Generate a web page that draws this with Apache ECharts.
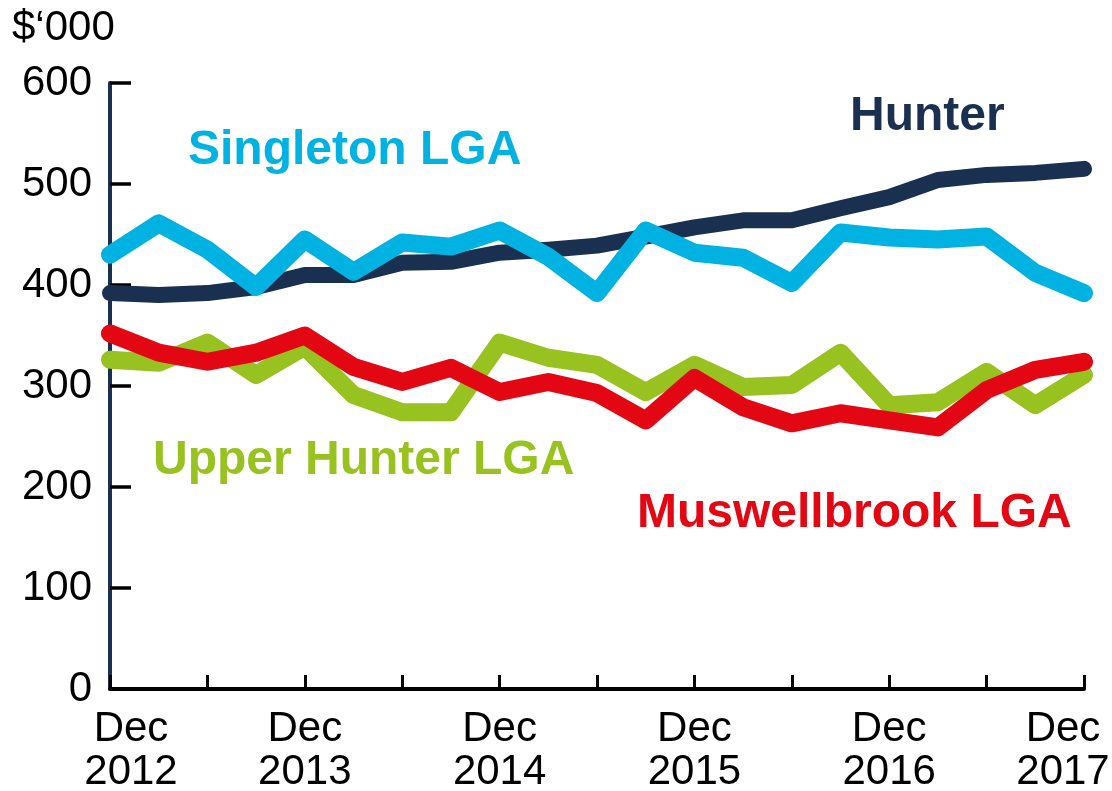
<!DOCTYPE html>
<html>
<head>
<meta charset="utf-8">
<script src="https://cdn.jsdelivr.net/npm/echarts@6/dist/echarts.min.js"></script>
<style>
  html, body { margin: 0; padding: 0; background: #fff; }
  #chart { width: 1112px; height: 791px; }
</style>
</head>
<body>
<div id="chart"></div>
<script>
// quarters, Dec 2012 .. Dec 2017
var categories = [
  'Dec 2012', 'Mar 2013', 'Jun 2013', 'Sep 2013',
  'Dec 2013', 'Mar 2014', 'Jun 2014', 'Sep 2014',
  'Dec 2014', 'Mar 2015', 'Jun 2015', 'Sep 2015',
  'Dec 2015', 'Mar 2016', 'Jun 2016', 'Sep 2016',
  'Dec 2016', 'Mar 2017', 'Jun 2017', 'Sep 2017',
  'Dec 2017'
];
var yTicks = [0, 100, 200, 300, 400, 500, 600];

// median values, $'000
var hunter = [392, 390, 392, 398, 410, 410, 422, 423, 432, 435, 439, 448, 457, 464, 464, 476, 487, 504, 509, 511, 515];
var upperHunter = [326, 323, 343, 311, 339, 291, 274, 274, 343, 328, 321, 294, 321, 299, 301, 333, 281, 284, 314, 281, 311];
var singleton = [430, 461, 435, 398, 445, 413, 442, 438, 454, 428, 392, 454, 432, 427, 402, 452, 447, 445, 448, 412, 392];
var muswellbrook = [352, 333, 324, 333, 350, 319, 304, 318, 294, 304, 293, 266, 308, 279, 263, 273, 266, 259, 296, 316, 324];

var NAVY = '#1a3050', CYAN = '#00b2e2', GREEN = '#98c21f', RED = '#e30613';
var FONT = 'Liberation Sans';

function line(name, data, color, width) {
  return {
    name: name,
    type: 'line',
    data: data,
    symbol: 'none',
    color: color,
    lineStyle: { color: color, width: width, cap: 'round', join: 'round' }
  };
}

// x, y = left / top of the text box
function label(text, x, y, color) {
  return {
    type: 'text',
    left: x,
    top: y,
    style: {
      text: text,
      fill: color,
      font: 'bold 48px "' + FONT + '"'
    }
  };
}

var tickText = { fontFamily: FONT, fontSize: 42, lineHeight: 43, color: '#000' };

var myChart = echarts.init(document.getElementById('chart'));
myChart.setOption({
  animation: false,
  grid: { left: 110, right: 28, top: 83, bottom: 102, containLabel: false, outerBoundsMode: 'none' },
  xAxis: {
    type: 'category',
    data: categories,
    boundaryGap: false,
    axisLine: { lineStyle: { color: '#000', width: 4 } },
    axisTick: { show: true, inside: true, length: 14, interval: 1, lineStyle: { color: '#000', width: 3 } },
    axisLabel: {
      interval: 3,
      margin: 19,
      color: '#000',
      fontFamily: FONT,
      fontSize: 42,
      lineHeight: 43,
      formatter: function (v, i) {
        var p = v.split(' ');
        var st = i === 0 ? 'a' : (i === categories.length - 1 ? 'b' : 'c');
        return '{' + st + '|' + p[0] + '}\n{' + st + '|' + p[1] + '}';
      },
      rich: {
        a: Object.assign({ padding: [0, 0, 0, 42] }, tickText),
        b: Object.assign({ padding: [0, 42, 0, 0] }, tickText),
        c: tickText
      }
    }
  },
  yAxis: {
    type: 'value',
    min: yTicks[0],
    max: yTicks[yTicks.length - 1],
    interval: 100,
    splitLine: { show: false },
    axisLine: { show: true, lineStyle: { color: NAVY, width: 4 } },
    axisTick: { show: true, inside: true, length: 21, lineStyle: { color: '#000', width: 3.5 } },
    axisLabel: { margin: 18, color: '#000', fontFamily: FONT, fontSize: 42 }
  },
  graphic: [
    {
      type: 'text', left: 12, top: 7,
      style: { text: '$\u2018000', fill: '#000', font: '42px "' + FONT + '"' }
    },
    label('Singleton LGA', 188, 127, CYAN),
    label('Hunter', 850, 93, NAVY),
    label('Upper Hunter LGA', 153, 437, GREEN),
    label('Muswellbrook LGA', 637, 490, RED)
  ],
  series: [
    line('Hunter', hunter, NAVY, 16),
    line('Upper Hunter LGA', upperHunter, GREEN, 18),
    line('Singleton LGA', singleton, CYAN, 18),
    line('Muswellbrook LGA', muswellbrook, RED, 18)
  ]
});
</script>
</body>
</html>
